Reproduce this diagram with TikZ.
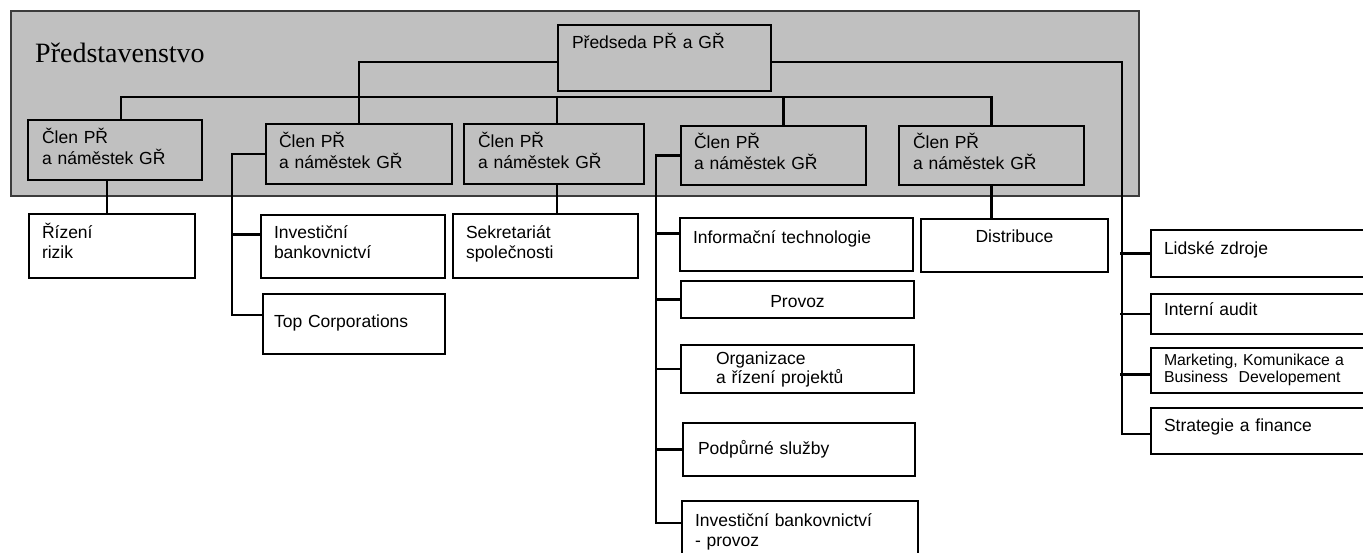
\documentclass[tikz,border=0pt]{standalone}
\usepackage{fontspec}
\setmainfont{Liberation Sans}
\newfontfamily\seriffam{Liberation Serif}
\usepackage{tikz}
\definecolor{panelgray}{HTML}{C0C0C0}
\definecolor{paneledge}{HTML}{3C3C3C}

\begin{document}
\begin{tikzpicture}%
        [x=1pt, y=-1pt,
        panel/.style={fill=panelgray, draw=paneledge, line width=2.8pt},
        conn/.style={line width=2.7pt},
        box/.style={draw, line width=2pt, fill=white, anchor=north west, inner ysep=0pt, inner xsep=13pt,
                    align=left, font=\fontsize{17.5pt}{20.5pt}\selectfont},
        member/.style={box, fill=panelgray}]
    %
    %% Page frame
    \path[use as bounding box] (0,0) rectangle (1363,552);
    \clip (0,0) rectangle (1363,552);
    %
    %% Drawing the board panel
    \draw[panel] (11,11) rectangle (1139,196);
    \node[anchor=base west, inner sep=0pt, font=\seriffam\fontsize{28pt}{30pt}\selectfont] (title) at (35,62) {Představenstvo};
    %%
    %% Drawing the board members
    %%
    \node[member, inner xsep=14pt, text width=185pt, text height=23.3pt, text depth=42.7pt] (chair) at (557,24) {Předseda PŘ a GŘ};
    \node[member, inner xsep=14pt, text width=146pt, text height=23.7pt, text depth=36.3pt] (m1) at (27,119) {Člen PŘ\\a náměstek GŘ};
    \node[member, text width=160pt, text height=23.7pt, text depth=36.3pt] (m2) at (265,123) {Člen PŘ\\a náměstek GŘ};
    \node[member, inner xsep=14pt, text width=152pt, text height=23.7pt, text depth=36.3pt] (m3) at (463,123) {Člen PŘ\\a náměstek GŘ};
    \node[member, text width=159pt, text height=22.7pt, text depth=36.3pt] (m4) at (680,125) {Člen PŘ\\a náměstek GŘ};
    \node[member, inner xsep=14pt, text width=157pt, text height=22.7pt, text depth=36.3pt] (m5) at (898,125) {Člen PŘ\\a náměstek GŘ};
    %%
    %% Drawing the departments
    %%
    \node[box, text width=140pt, text height=24.3pt, text depth=39.7pt] (riz) at (28,213) {Řízení\\rizik};
    \node[box, text width=158pt, text height=23.3pt, text depth=39.7pt] (inv) at (260,214) {Investiční\\bankovnictví};
    \node[box, inner xsep=11pt, text width=160pt, text height=33.7pt, text depth=26.3pt] (top) at (262,293) {Top Corporations};
    \node[box, text width=159pt, text height=24.3pt, text depth=39.7pt] (sek) at (452,213) {Sekretariát\\společnosti};
    \node[box, text width=207pt, text height=25pt, text depth=28pt] (it) at (679,217) {Informační technologie};
    \node[box, align=center, text width=207pt, text height=26pt, text depth=11pt] (prov) at (680,280) {Provoz};
    \node[box, inner xsep=35pt, text width=163pt, text height=19.3pt, text depth=28.7pt,
          font=\fontsize{17.5pt}{19.4pt}\selectfont] (org) at (680,344) {Organizace\\a řízení projektů};
    \node[box, inner xsep=15pt, text width=202pt, text height=31.3pt, text depth=21.7pt] (podp) at (682,422) {Podpůrné služby};
    \node[box, text width=210pt, text height=25pt, text depth=40pt] (invp) at (681,500) {Investiční bankovnictví\\- provoz};
    \node[box, align=center, text width=161pt, text height=23.7pt, text depth=29.3pt] (dist) at (920,218) {Distribuce};
    \node[box, text width=196pt, text height=24.3pt, text depth=22.7pt] (hr) at (1150,229) {Lidské zdroje};
    \node[box, text width=196pt, text height=21.3pt, text depth=18.7pt] (audit) at (1150,293) {Interní audit};
    \node[box, text width=196pt, text height=17pt, text depth=28pt,
          font=\fontsize{15.8pt}{17.7pt}\selectfont] (mkt) at (1150,347) {Marketing, Komunikace a\\Business\ \ Developement};
    \node[box, text width=196pt, text height=23pt, text depth=23pt] (strat) at (1150,407) {Strategie a finance};
    %%
    %% Drawing the connectors
    %%
    \coordinate (bus) at (0,97);
    \draw[conn] ([yshift=-4pt]chair.west) -| (m2.north);
    \draw[conn] ([xshift=6pt]m1.north) |- (m5.north |- bus) -- (m5.north);
    \draw[conn] ([xshift=3pt]m3.north) -- ([xshift=3pt]m3.north |- bus);
    \draw[conn] ([xshift=10pt]m4.north) -- ([xshift=10pt]m4.north |- bus);
    \draw[conn] ([yshift=-4pt]chair.east) -| ++(350,372) -- ([yshift=-3pt]strat.west);
    \draw[conn] (hr.west) -- ++(-30,0);
    \draw[conn] (audit.west) -- ++(-30,0);
    \draw[conn] ([yshift=-4pt]mkt.west) -- ++(-30,0);
    %
    \draw[conn] ([xshift=-8pt]m1.south) -- ([xshift=-8pt]m1.south |- riz.north);
    \draw[conn] (m2.west) -- ++(-33,0) |- ([yshift=9pt]top.west);
    \draw[conn] ([yshift=12pt]inv.west) -- ++(-28,0);
    \draw[conn] ([xshift=3pt]m3.south) -- ([xshift=3pt]m3.south |- sek.north);
    \draw[conn] (m4.west) -- ++(-24,0) |- ([yshift=-23pt]invp.north west);
    \draw[conn] ([yshift=11pt]it.west) -- ++(-23,0);
    \draw[conn] (prov.west) -- ++(-24,0);
    \draw[conn] (org.west) -- ++(-24,0);
    \draw[conn] (podp.west) -- ++(-26,0);
    \draw[conn] (m5.south) -- (m5.south |- dist.north);
    %%
\end{tikzpicture}
\end{document}
